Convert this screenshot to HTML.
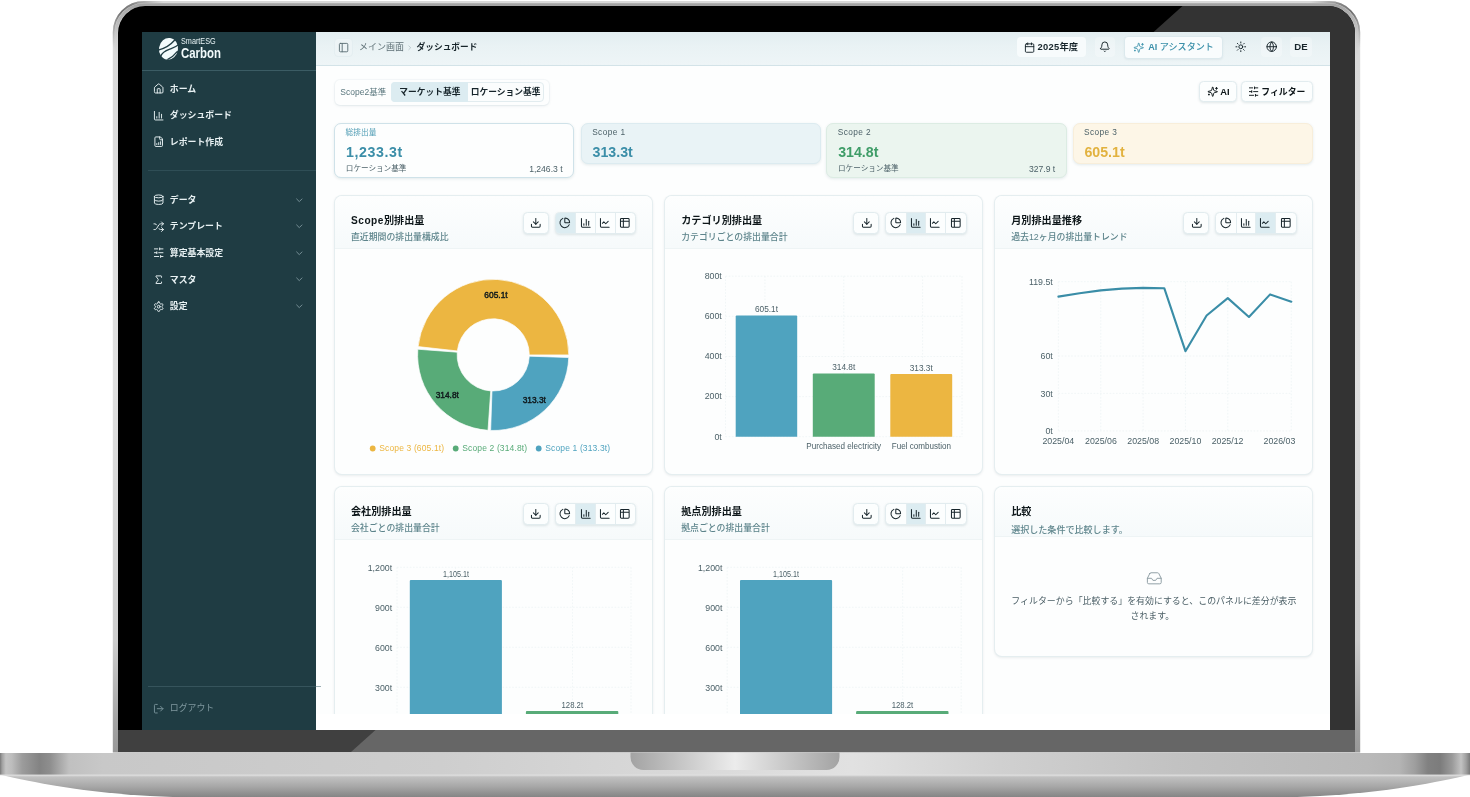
<!DOCTYPE html>
<html lang="ja"><head><meta charset="utf-8"><title>SmartESG Carbon ダッシュボード</title>
<style>
*{margin:0;padding:0;box-sizing:border-box}
html,body{width:1470px;height:797px;background:#fff;overflow:hidden}
body{position:relative;font-family:"Liberation Sans","Noto Sans CJK JP",sans-serif;-webkit-font-smoothing:antialiased}
#laptop{position:absolute;left:0;top:0}
#screen{position:absolute;left:142px;top:32px;width:1188px;height:698px;overflow:hidden;background:#fff}
#app{position:absolute;left:-142px;top:-32px;width:1470px;height:797px}
.b{position:absolute}
.ic{position:absolute;overflow:visible}
.t{position:absolute;white-space:nowrap;line-height:16px;height:16px}
svg text{font-family:"Liberation Sans","Noto Sans CJK JP",sans-serif}
</style></head>
<body>

<svg id="laptop" width="1470" height="797" viewBox="0 0 1470 797">
 <defs>
  <linearGradient id="baseTop" x1="0" y1="0" x2="1" y2="0">
   <stop offset="0" stop-color="#7a7a7a"/><stop offset="0.0014" stop-color="#a0a0a0"/>
   <stop offset="0.004" stop-color="#c4c4c4"/><stop offset="0.008" stop-color="#bdbdbd"/>
   <stop offset="0.015" stop-color="#9c9c9c"/><stop offset="0.027" stop-color="#838383"/>
   <stop offset="0.034" stop-color="#8e8e8e"/><stop offset="0.047" stop-color="#c0c0c0"/>
   <stop offset="0.07" stop-color="#c8c8c8"/>
   <stop offset="0.3" stop-color="#cecece"/><stop offset="0.45" stop-color="#d8d8d8"/><stop offset="0.58" stop-color="#e1e1e1"/>
   <stop offset="0.68" stop-color="#d0d0d0"/><stop offset="0.8" stop-color="#c2c2c2"/><stop offset="0.93" stop-color="#b9b9b9"/>
   <stop offset="0.952" stop-color="#b4b4b4"/><stop offset="0.9626" stop-color="#9e9e9e"/>
   <stop offset="0.9714" stop-color="#818181"/><stop offset="0.9796" stop-color="#7c7c7c"/>
   <stop offset="0.9878" stop-color="#9a9a9a"/><stop offset="0.9939" stop-color="#c2c2c2"/>
   <stop offset="0.9973" stop-color="#a0a0a0"/><stop offset="1" stop-color="#7a7a7a"/>
  </linearGradient>
  <linearGradient id="baseBot" x1="0" y1="0" x2="0" y2="1">
   <stop offset="0" stop-color="#dcdcdc"/><stop offset="0.12" stop-color="#c0c0c0"/>
   <stop offset="0.5" stop-color="#a8a8a8"/><stop offset="1" stop-color="#828282"/>
  </linearGradient>
  <linearGradient id="notch" x1="0" y1="0" x2="1" y2="0">
   <stop offset="0" stop-color="#a3a3a3"/><stop offset="0.5" stop-color="#ececec"/><stop offset="1" stop-color="#a3a3a3"/>
  </linearGradient>
  <linearGradient id="rimV" gradientUnits="userSpaceOnUse" x1="0" y1="0" x2="0" y2="752">
   <stop offset="0" stop-color="#d9d9d9"/><stop offset="0.5" stop-color="#e0e0e0"/>
   <stop offset="0.85" stop-color="#cdcdcd"/><stop offset="0.96" stop-color="#a4a4a4"/><stop offset="1" stop-color="#989898"/>
  </linearGradient>
  <linearGradient id="rimIn" gradientUnits="userSpaceOnUse" x1="0" y1="4" x2="0" y2="60">
   <stop offset="0" stop-color="#a2a2a2"/><stop offset="0.35" stop-color="#b4b4b4" stop-opacity=".8"/><stop offset="1" stop-color="#d0d0d0" stop-opacity="0"/>
  </linearGradient>
  <linearGradient id="cornL" gradientUnits="userSpaceOnUse" x1="113" y1="60" x2="175" y2="2">
   <stop offset="0.1" stop-color="#707070" stop-opacity="0"/><stop offset="0.45" stop-color="#6a6a6a" stop-opacity=".95"/><stop offset="0.62" stop-color="#707070" stop-opacity=".8"/><stop offset="0.9" stop-color="#8a8a8a" stop-opacity="0"/>
  </linearGradient>
  <linearGradient id="cornR" gradientUnits="userSpaceOnUse" x1="1360" y1="60" x2="1298" y2="2">
   <stop offset="0.1" stop-color="#707070" stop-opacity="0"/><stop offset="0.45" stop-color="#6a6a6a" stop-opacity=".95"/><stop offset="0.62" stop-color="#707070" stop-opacity=".8"/><stop offset="0.9" stop-color="#8a8a8a" stop-opacity="0"/>
  </linearGradient>
  <clipPath id="bezelClip"><path d="M118 752V33a27 27 0 0 1 27-27h1183a27 27 0 0 1 27 27V752Z"/></clipPath>
 </defs>
 <!-- lid silver rim -->
 <path d="M112.8 752.5V32.2a31.2 31.2 0 0 1 31.2-31.2h1185a31.2 31.2 0 0 1 31.2 31.2V752.5Z" fill="url(#rimV)"/>
 <path d="M116.2 60V32.6a27.8 27.8 0 0 1 27.8-27.8h1185a27.8 27.8 0 0 1 27.8 27.8V60" fill="none" stroke="url(#rimIn)" stroke-width="3"/>
 <path d="M113.6 60V32.4a30.4 30.4 0 0 1 30.4-30.4H175" fill="none" stroke="url(#cornL)" stroke-width="1.8"/>
 <path d="M1359.4 60V32.4a30.4 30.4 0 0 0-30.4-30.4H1298" fill="none" stroke="url(#cornR)" stroke-width="1.8"/>
 <!-- bezel -->
 <g clip-path="url(#bezelClip)">
  <rect x="116" y="5" width="1241" height="747" fill="#000"/>
  <rect x="116" y="730" width="1241" height="22" fill="#404040"/>
  <!-- reflection -->
  <path d="M1187 2L1360 2L1360 730L375.5 730Z" fill="#333"/>
  <path d="M375.5 730L1360 730L1360 752L351 752Z" fill="#666"/>
 </g>
 <!-- base -->
 <path d="M0 774.5C30 782 85 792.5 150 796C180 797.6 210 798 240 798H1230C1260 798 1290 797.6 1320 796C1385 792.5 1440 782 1470 774.5Z" fill="url(#baseBot)"/>
 <rect x="0" y="753" width="1470" height="22" fill="url(#baseTop)"/>
 <rect x="0" y="774.3" width="1470" height="1.4" fill="#e2e2e2" opacity=".6"/>
 <path d="M630.5 752.5H839.5V757a13 13 0 0 1-13 13H643.5a13 13 0 0 1-13-13Z" fill="url(#notch)"/>
</svg>

<div id="screen"><div id="app">
<div class="b " style="left:316.00px;top:32.00px;width:1014.00px;height:698.00px;background:#fdfefe;"></div>
<div class="b " style="left:142.00px;top:32.00px;width:174.00px;height:698.00px;background:#1f3c43;"></div>
<svg class="ic" style="left:158px;top:36.5px;width:21px;height:23.5px" viewBox="0 0 21 23.5">
 <ellipse cx="10.5" cy="11.8" rx="9.5" ry="10.9" fill="#f3fbfc" transform="rotate(8 10.5 11.8)"/>
 <g fill="none" stroke="#1f3c43" stroke-width="1.3" stroke-linecap="butt">
  <path d="M0.2 13.1C6.5 11.6 12.5 8 16.8 3"/>
  <path d="M2.6 19.5C4.2 14.2 9.5 13 13.2 11.6C16 10.5 18.6 9.4 20.8 7.6"/>
  <path d="M9.4 22.6C13.2 20.8 16.6 18.1 19.7 14.2"/>
 </g></svg>
<span class="t " style="top:33.30px;font-size:8.6px;color:#e9f4f6;font-weight:400;left:181.20px;transform:scaleX(0.845);transform-origin:left center;">SmartESG</span>
<span class="t " style="top:44.60px;font-size:14.2px;color:#f1fafb;font-weight:700;left:181.00px;transform:scaleX(0.805);transform-origin:left center;">Carbon</span>
<div class="b " style="left:142.00px;top:70.00px;width:174.00px;height:1.00px;background:#3b5c64;"></div>
<svg class="ic" style="left:152.90px;top:83.00px;width:11.4px;height:11.4px" viewBox="0 0 24 24" fill="none" stroke="#e8f1f3" stroke-width="2.0" stroke-linecap="round" stroke-linejoin="round"><path d="M15 21v-8a1 1 0 0 0-1-1h-4a1 1 0 0 0-1 1v8"/><path d="M3 10a2 2 0 0 1 .709-1.528l7-5.999a2 2 0 0 1 2.582 0l7 5.999A2 2 0 0 1 21 10v9a2 2 0 0 1-2 2H5a2 2 0 0 1-2-2z"/></svg>
<span class="t " style="top:80.70px;font-size:8.9px;color:#e8f1f3;font-weight:700;left:169.80px;">ホーム</span>
<svg class="ic" style="left:152.90px;top:109.50px;width:11.4px;height:11.4px" viewBox="0 0 24 24" fill="none" stroke="#e8f1f3" stroke-width="2.0" stroke-linecap="round" stroke-linejoin="round"><path d="M3 3v16a2 2 0 0 0 2 2h16"/><path d="M18 17V9"/><path d="M13 17V5"/><path d="M8 17v-3"/></svg>
<span class="t " style="top:107.20px;font-size:8.9px;color:#e8f1f3;font-weight:700;left:169.80px;">ダッシュボード</span>
<svg class="ic" style="left:152.90px;top:136.10px;width:11.4px;height:11.4px" viewBox="0 0 24 24" fill="none" stroke="#e8f1f3" stroke-width="2.0" stroke-linecap="round" stroke-linejoin="round"><path d="M15 2H6a2 2 0 0 0-2 2v16a2 2 0 0 0 2 2h12a2 2 0 0 0 2-2V7Z"/><path d="M14 2v4a2 2 0 0 0 2 2h4"/><path d="M8 18v-2"/><path d="M12 18v-4"/><path d="M16 18v-6"/></svg>
<span class="t " style="top:133.80px;font-size:8.9px;color:#e8f1f3;font-weight:700;left:169.80px;">レポート作成</span>
<div class="b " style="left:148.00px;top:169.60px;width:168.00px;height:1.00px;background:#2f4e56;"></div>
<svg class="ic" style="left:152.90px;top:194.30px;width:11.4px;height:11.4px" viewBox="0 0 24 24" fill="none" stroke="#e8f1f3" stroke-width="2.0" stroke-linecap="round" stroke-linejoin="round"><ellipse cx="12" cy="5" rx="9" ry="3"/><path d="M3 5V19A9 3 0 0 0 21 19V5"/><path d="M3 12A9 3 0 0 0 21 12"/></svg>
<span class="t " style="top:192.00px;font-size:8.9px;color:#e8f1f3;font-weight:700;left:169.80px;">データ</span>
<svg class="ic" style="left:293.50px;top:194.70px;width:10.6px;height:10.6px" viewBox="0 0 24 24" fill="none" stroke="#8099a0" stroke-width="2" stroke-linecap="round" stroke-linejoin="round"><path d="m6 9 6 6 6-6"/></svg>
<svg class="ic" style="left:152.90px;top:220.60px;width:11.4px;height:11.4px" viewBox="0 0 24 24" fill="none" stroke="#e8f1f3" stroke-width="2.0" stroke-linecap="round" stroke-linejoin="round"><path d="m18 14 4 4-4 4"/><path d="m18 2 4 4-4 4"/><path d="M2 18h1.973a4 4 0 0 0 3.3-1.7l5.454-8.6a4 4 0 0 1 3.3-1.7H22"/><path d="M2 6h1.972a4 4 0 0 1 3.6 2.2"/><path d="M22 18h-6.041a4 4 0 0 1-3.3-1.8l-.359-.45"/></svg>
<span class="t " style="top:218.30px;font-size:8.9px;color:#e8f1f3;font-weight:700;left:169.80px;">テンプレート</span>
<svg class="ic" style="left:293.50px;top:221.00px;width:10.6px;height:10.6px" viewBox="0 0 24 24" fill="none" stroke="#8099a0" stroke-width="2" stroke-linecap="round" stroke-linejoin="round"><path d="m6 9 6 6 6-6"/></svg>
<svg class="ic" style="left:152.90px;top:247.40px;width:11.4px;height:11.4px" viewBox="0 0 24 24" fill="none" stroke="#e8f1f3" stroke-width="2.0" stroke-linecap="round" stroke-linejoin="round"><path d="M21 4h-7"/><path d="M10 4H3"/><path d="M21 12h-9"/><path d="M8 12H3"/><path d="M21 20h-5"/><path d="M12 20H3"/><path d="M14 2v4"/><path d="M8 10v4"/><path d="M16 18v4"/></svg>
<span class="t " style="top:245.10px;font-size:8.9px;color:#e8f1f3;font-weight:700;left:169.80px;">算定基本設定</span>
<svg class="ic" style="left:293.50px;top:247.80px;width:10.6px;height:10.6px" viewBox="0 0 24 24" fill="none" stroke="#8099a0" stroke-width="2" stroke-linecap="round" stroke-linejoin="round"><path d="m6 9 6 6 6-6"/></svg>
<svg class="ic" style="left:152.90px;top:274.00px;width:11.4px;height:11.4px" viewBox="0 0 24 24" fill="none" stroke="#e8f1f3" stroke-width="2.0" stroke-linecap="round" stroke-linejoin="round"><path d="M18 7V5a1 1 0 0 0-1-1H6.5a.5.5 0 0 0-.4.8l4.5 6a2 2 0 0 1 0 2.4l-4.5 6a.5.5 0 0 0 .4.8H17a1 1 0 0 0 1-1v-2"/></svg>
<span class="t " style="top:271.70px;font-size:8.9px;color:#e8f1f3;font-weight:700;left:169.80px;">マスタ</span>
<svg class="ic" style="left:293.50px;top:274.40px;width:10.6px;height:10.6px" viewBox="0 0 24 24" fill="none" stroke="#8099a0" stroke-width="2" stroke-linecap="round" stroke-linejoin="round"><path d="m6 9 6 6 6-6"/></svg>
<svg class="ic" style="left:152.90px;top:300.50px;width:11.4px;height:11.4px" viewBox="0 0 24 24" fill="none" stroke="#e8f1f3" stroke-width="2.0" stroke-linecap="round" stroke-linejoin="round"><path d="M12.22 2h-.44a2 2 0 0 0-2 2v.18a2 2 0 0 1-1 1.73l-.43.25a2 2 0 0 1-2 0l-.15-.08a2 2 0 0 0-2.73.73l-.22.38a2 2 0 0 0 .73 2.73l.15.1a2 2 0 0 1 1 1.72v.51a2 2 0 0 1-1 1.74l-.15.09a2 2 0 0 0-.73 2.73l.22.38a2 2 0 0 0 2.73.73l.15-.08a2 2 0 0 1 2 0l.43.25a2 2 0 0 1 1 1.73V20a2 2 0 0 0 2 2h.44a2 2 0 0 0 2-2v-.18a2 2 0 0 1 1-1.73l.43-.25a2 2 0 0 1 2 0l.15.08a2 2 0 0 0 2.73-.73l.22-.39a2 2 0 0 0-.73-2.73l-.15-.08a2 2 0 0 1-1-1.74v-.5a2 2 0 0 1 1-1.74l.15-.09a2 2 0 0 0 .73-2.73l-.22-.38a2 2 0 0 0-2.73-.73l-.15.08a2 2 0 0 1-2 0l-.43-.25a2 2 0 0 1-1-1.73V4a2 2 0 0 0-2-2z"/><circle cx="12" cy="12" r="3"/></svg>
<span class="t " style="top:298.20px;font-size:8.9px;color:#e8f1f3;font-weight:700;left:169.80px;">設定</span>
<svg class="ic" style="left:293.50px;top:300.90px;width:10.6px;height:10.6px" viewBox="0 0 24 24" fill="none" stroke="#8099a0" stroke-width="2" stroke-linecap="round" stroke-linejoin="round"><path d="m6 9 6 6 6-6"/></svg>
<div class="b " style="left:148.00px;top:685.60px;width:168.00px;height:1.00px;background:#36545c;"></div>
<div class="b " style="left:316.00px;top:685.60px;width:4.50px;height:1.00px;background:#9fb0b5;z-index:5;"></div>
<svg class="ic" style="left:152.90px;top:702.60px;width:11.4px;height:11.4px" viewBox="0 0 24 24" fill="none" stroke="#78929a" stroke-width="2.0" stroke-linecap="round" stroke-linejoin="round"><path d="M9 21H5a2 2 0 0 1-2-2V5a2 2 0 0 1 2-2h4"/><path d="m16 17 5-5-5-5"/><path d="M21 12H9"/></svg>
<span class="t " style="top:700.30px;font-size:8.9px;color:#7f989f;font-weight:400;left:169.80px;">ログアウト</span>
<div class="b " style="left:316.00px;top:32.00px;width:1014.00px;height:34.30px;background:linear-gradient(180deg,#e2edf0 0%,#e9f2f4 40%,#eef5f7 100%);border-bottom:1px solid #d3e3e8;"></div>
<div class="b " style="left:334.00px;top:38.00px;width:18.50px;height:18.50px;background:#edf4f6;border:1px solid #e4eef1;border-radius:4px;"></div>
<svg class="ic" style="left:337.70px;top:41.70px;width:11.2px;height:11.2px" viewBox="0 0 24 24" fill="none" stroke="#5d6f75" stroke-width="2.0" stroke-linecap="round" stroke-linejoin="round"><rect width="18" height="18" x="3" y="3" rx="2"/><path d="M9 3v18"/></svg>
<span class="t " style="top:39.20px;font-size:9.0px;color:#5f7177;font-weight:400;left:359.00px;">メイン画面</span>
<svg class="ic" style="left:405.55px;top:43.65px;width:7.5px;height:7.5px" viewBox="0 0 24 24" fill="none" stroke="#a3b3b8" stroke-width="2" stroke-linecap="round" stroke-linejoin="round"><path d="m9 18 6-6-6-6"/></svg>
<span class="t " style="top:39.20px;font-size:8.7px;color:#16242a;font-weight:700;left:416.60px;">ダッシュボード</span>
<div class="b " style="left:1017.00px;top:37.30px;width:69.00px;height:19.70px;background:#f7fbfc;border-radius:4px;"></div>
<svg class="ic" style="left:1024.00px;top:41.50px;width:11.2px;height:11.2px" viewBox="0 0 24 24" fill="none" stroke="#16242a" stroke-width="2.0" stroke-linecap="round" stroke-linejoin="round"><path d="M8 2v4"/><path d="M16 2v4"/><rect width="18" height="18" x="3" y="4" rx="2"/><path d="M3 10h18"/></svg>
<span class="t " style="top:39.20px;font-size:9.35px;color:#16242a;font-weight:700;left:1037.50px;"><span style="letter-spacing:.3px">2025</span>年度</span>
<div class="b " style="left:1094.60px;top:37.30px;width:20.40px;height:19.70px;background:rgba(255,255,255,.28);border-radius:4px;"></div>
<div class="b " style="left:1261.00px;top:37.30px;width:20.60px;height:19.70px;background:rgba(255,255,255,.28);border-radius:4px;"></div>
<div class="b " style="left:1290.40px;top:37.30px;width:21.40px;height:19.70px;background:rgba(255,255,255,.28);border-radius:4px;"></div>
<svg class="ic" style="left:1098.80px;top:41.30px;width:11.6px;height:11.6px" viewBox="0 0 24 24" fill="none" stroke="#1a282d" stroke-width="2.0" stroke-linecap="round" stroke-linejoin="round"><path d="M10.268 21a2 2 0 0 0 3.464 0"/><path d="M3.262 15.326A1 1 0 0 0 4 17h16a1 1 0 0 0 .74-1.673C19.41 13.956 18 12.499 18 8A6 6 0 0 0 6 8c0 4.499-1.411 5.956-2.738 7.326"/></svg>
<div class="b " style="left:1124.00px;top:36.10px;width:98.60px;height:22.80px;background:#f9fcfd;border:1px solid #dce9ed;border-radius:4px;box-shadow:0 1px 2px rgba(60,100,110,.08);"></div>
<svg class="ic" style="left:1132.70px;top:41.50px;width:11.4px;height:11.4px" viewBox="0 0 24 24" fill="none" stroke="#3f94ad" stroke-width="1.8" stroke-linecap="round" stroke-linejoin="round"><path d="M9.937 15.5A2 2 0 0 0 8.5 14.063l-6.135-1.582a.5.5 0 0 1 0-.962L8.5 9.936A2 2 0 0 0 9.937 8.5l1.582-6.135a.5.5 0 0 1 .963 0L14.063 8.5A2 2 0 0 0 15.5 9.937l6.135 1.581a.5.5 0 0 1 0 .964L15.5 14.063a2 2 0 0 0-1.437 1.437l-1.582 6.135a.5.5 0 0 1-.963 0z"/><path d="M20 3v4"/><path d="M22 5h-4"/><path d="M4 17v2"/><path d="M5 18H3"/></svg>
<span class="t " style="top:39.20px;font-size:9.05px;color:#3b90aa;font-weight:500;left:1148.30px;"><b>AI</b> アシスタント</span>
<svg class="ic" style="left:1235.10px;top:41.30px;width:11.6px;height:11.6px" viewBox="0 0 24 24" fill="none" stroke="#16242a" stroke-width="2.0" stroke-linecap="round" stroke-linejoin="round"><circle cx="12" cy="12" r="4"/><path d="M12 2v2"/><path d="M12 20v2"/><path d="m4.93 4.93 1.41 1.41"/><path d="m17.66 17.66 1.41 1.41"/><path d="M2 12h2"/><path d="M20 12h2"/><path d="m6.34 17.66-1.41 1.41"/><path d="m19.07 4.93-1.41 1.41"/></svg>
<svg class="ic" style="left:1265.50px;top:41.40px;width:11.4px;height:11.4px" viewBox="0 0 24 24" fill="none" stroke="#16242a" stroke-width="2.0" stroke-linecap="round" stroke-linejoin="round"><circle cx="12" cy="12" r="10"/><path d="M12 2a14.5 14.5 0 0 0 0 20 14.5 14.5 0 0 0 0-20"/><path d="M2 12h20"/></svg>
<span class="t " style="top:39.20px;font-size:9.6px;color:#16242a;font-weight:700;left:1301.00px;transform:translateX(-50%);transform-origin:center center;">DE</span>
<div class="b " style="left:334.50px;top:80.00px;width:214.00px;height:24.60px;background:#fdfefe;border-radius:5px;box-shadow:0 1px 3px rgba(70,110,120,.12),0 0 0 1px rgba(215,230,235,.18);"></div>
<span class="t " style="top:84.20px;font-size:8.5px;color:#5b777e;font-weight:400;left:340.30px;">Scope2基準</span>
<div class="b " style="left:391.40px;top:82.00px;width:152.20px;height:20.40px;background:#fbfdfd;border:1px solid #e2ecef;border-radius:4px;"></div>
<div class="b " style="left:391.40px;top:82.00px;width:76.60px;height:20.40px;background:#dcecf1;border-radius:4px 0 0 4px;"></div>
<span class="t " style="top:84.10px;font-size:8.75px;color:#16242a;font-weight:700;left:429.80px;transform:translateX(-50%);transform-origin:center center;">マーケット基準</span>
<span class="t " style="top:84.10px;font-size:8.75px;color:#16242a;font-weight:700;left:505.60px;transform:translateX(-50%);transform-origin:center center;">ロケーション基準</span>
<div class="b " style="left:1199.30px;top:81.20px;width:37.50px;height:21.00px;background:#fcfefe;border:1px solid #e2ecef;border-radius:4.5px;box-shadow:0 1px 2.5px rgba(60,100,110,.15);"></div>
<svg class="ic" style="left:1206.50px;top:86.20px;width:11.4px;height:11.4px" viewBox="0 0 24 24" fill="none" stroke="#0d1619" stroke-width="2.0" stroke-linecap="round" stroke-linejoin="round"><path d="M9.937 15.5A2 2 0 0 0 8.5 14.063l-6.135-1.582a.5.5 0 0 1 0-.962L8.5 9.936A2 2 0 0 0 9.937 8.5l1.582-6.135a.5.5 0 0 1 .963 0L14.063 8.5A2 2 0 0 0 15.5 9.937l6.135 1.581a.5.5 0 0 1 0 .964L15.5 14.063a2 2 0 0 0-1.437 1.437l-1.582 6.135a.5.5 0 0 1-.963 0z"/><path d="M20 3v4"/><path d="M22 5h-4"/><path d="M4 17v2"/><path d="M5 18H3"/></svg>
<span class="t " style="top:84.00px;font-size:9.3px;color:#0d1619;font-weight:700;left:1220.20px;">AI</span>
<div class="b " style="left:1240.80px;top:81.20px;width:72.20px;height:21.00px;background:#fcfefe;border:1px solid #e2ecef;border-radius:4.5px;box-shadow:0 1px 2.5px rgba(60,100,110,.15);"></div>
<svg class="ic" style="left:1247.80px;top:86.30px;width:11.2px;height:11.2px" viewBox="0 0 24 24" fill="none" stroke="#0d1619" stroke-width="2.0" stroke-linecap="round" stroke-linejoin="round"><path d="M21 4h-7"/><path d="M10 4H3"/><path d="M21 12h-9"/><path d="M8 12H3"/><path d="M21 20h-5"/><path d="M12 20H3"/><path d="M14 2v4"/><path d="M8 10v4"/><path d="M16 18v4"/></svg>
<span class="t " style="top:84.10px;font-size:8.85px;color:#0d1619;font-weight:700;left:1261.30px;">フィルター</span>
<div class="b " style="left:334.20px;top:123.20px;width:240.20px;height:54.40px;background:#fdfefe;border:1px solid #cfe2e9;border-radius:7px;box-shadow:0 1px 3px rgba(70,110,120,.14);"></div>
<span class="t " style="top:124.60px;font-size:7.7px;color:#4d9bb3;font-weight:400;left:345.60px;">総排出量</span>
<span class="t " style="top:143.50px;font-size:14.2px;color:#3b8ea8;font-weight:700;left:346.00px;letter-spacing:0.6px;">1,233.3t</span>
<span class="t " style="top:161.30px;font-size:7.6px;color:#4c6168;font-weight:400;left:345.80px;">ロケーション基準</span>
<span class="t " style="top:161.30px;font-size:8.6px;color:#4c6168;font-weight:400;left:562.60px;transform:translateX(-100%);transform-origin:right center;">1,246.3 t</span>
<div class="b " style="left:580.80px;top:123.20px;width:239.80px;height:41.00px;background:#e9f3f6;border:1px solid #dcebf0;border-radius:7px;box-shadow:0 1px 3px rgba(70,110,120,.14);"></div>
<span class="t " style="top:123.80px;font-size:8.3px;color:#4c6168;font-weight:400;left:592.20px;letter-spacing:0.4px;">Scope 1</span>
<span class="t " style="top:143.50px;font-size:14.2px;color:#3b8ea8;font-weight:700;left:592.60px;letter-spacing:0.0px;">313.3t</span>
<div class="b " style="left:826.40px;top:123.20px;width:240.60px;height:54.40px;background:#ebf5ef;border:1px solid #dcece3;border-radius:7px;box-shadow:0 1px 3px rgba(70,110,120,.14);"></div>
<span class="t " style="top:123.80px;font-size:8.3px;color:#4c6168;font-weight:400;left:837.80px;letter-spacing:0.4px;">Scope 2</span>
<span class="t " style="top:143.50px;font-size:14.2px;color:#3f9d68;font-weight:700;left:838.20px;letter-spacing:0.0px;">314.8t</span>
<span class="t " style="top:161.30px;font-size:7.6px;color:#4c6168;font-weight:400;left:838.00px;">ロケーション基準</span>
<span class="t " style="top:161.30px;font-size:8.6px;color:#4c6168;font-weight:400;left:1055.20px;transform:translateX(-100%);transform-origin:right center;">327.9 t</span>
<div class="b " style="left:1072.60px;top:123.20px;width:240.40px;height:41.00px;background:#fdf6e7;border:1px solid #f8eeda;border-radius:7px;box-shadow:0 1px 3px rgba(70,110,120,.14);"></div>
<span class="t " style="top:123.80px;font-size:8.3px;color:#4c6168;font-weight:400;left:1084.00px;letter-spacing:0.4px;">Scope 3</span>
<span class="t " style="top:143.50px;font-size:14.2px;color:#e2b23f;font-weight:700;left:1084.40px;letter-spacing:0.0px;">605.1t</span>
<div class="b " style="left:334.20px;top:194.70px;width:319.20px;height:280.30px;background:#fdfefe;border:1px solid rgba(214,226,230,.6);border-radius:8px;box-shadow:0 1px 2.5px rgba(40,70,80,.09);overflow:hidden;"></div>
<div class="b " style="left:335.20px;top:195.70px;width:317.20px;height:53.80px;background:linear-gradient(180deg,#fdfefe,#f6fafb);border-bottom:1px solid #eef4f5;border-radius:7px 7px 0 0;"></div>
<span class="t " style="top:212.70px;font-size:10.15px;color:#0e171a;font-weight:700;left:351.00px;"><span style="letter-spacing:.5px">Scope</span>別排出量</span>
<span class="t " style="top:229.20px;font-size:8.9px;color:#5d848b;font-weight:500;left:351.00px;">直近期間の排出量構成比</span>
<div class="b " style="left:522.80px;top:212.00px;width:26.20px;height:22.30px;background:#fcfefe;border:1px solid #e2ecef;border-radius:4.5px;box-shadow:0 1px 2.5px rgba(60,100,110,.15);"></div>
<svg class="ic" style="left:530.40px;top:217.00px;width:11.6px;height:11.6px" viewBox="0 0 24 24" fill="none" stroke="#16242a" stroke-width="2.1" stroke-linecap="round" stroke-linejoin="round"><path d="M21 15v4a2 2 0 0 1-2 2H5a2 2 0 0 1-2-2v-4"/><path d="m7 10 5 5 5-5"/><path d="M12 15V3"/></svg>
<div class="b " style="left:555.00px;top:212.00px;width:81.40px;height:22.30px;background:#fcfefe;border:1px solid #e2ecef;border-radius:4.5px;box-shadow:0 1px 2.5px rgba(60,100,110,.15);"></div>
<div class="b " style="left:556.00px;top:213.00px;width:19.90px;height:20.30px;background:#dcecf1;border-radius:3px 0 0 3px;"></div>
<div class="b " style="left:575.40px;top:213.00px;width:1.00px;height:20.30px;background:#e3edf0;"></div>
<div class="b " style="left:595.00px;top:213.00px;width:1.00px;height:20.30px;background:#e3edf0;"></div>
<div class="b " style="left:614.90px;top:213.00px;width:1.00px;height:20.30px;background:#e3edf0;"></div>
<svg class="ic" style="left:559.40px;top:217.00px;width:11.6px;height:11.6px" viewBox="0 0 24 24" fill="none" stroke="#16242a" stroke-width="2.1" stroke-linecap="round" stroke-linejoin="round"><path d="M21 12c.552 0 1.005-.449.95-.998a10 10 0 0 0-8.953-8.951c-.55-.055-.998.398-.998.95v8a1 1 0 0 0 1 1z"/><path d="M21.21 15.89A10 10 0 1 1 8 2.83"/></svg>
<svg class="ic" style="left:579.60px;top:217.00px;width:11.6px;height:11.6px" viewBox="0 0 24 24" fill="none" stroke="#16242a" stroke-width="2.1" stroke-linecap="round" stroke-linejoin="round"><path d="M3 3v16a2 2 0 0 0 2 2h16"/><path d="M18 17V9"/><path d="M13 17V5"/><path d="M8 17v-3"/></svg>
<svg class="ic" style="left:598.80px;top:217.00px;width:11.6px;height:11.6px" viewBox="0 0 24 24" fill="none" stroke="#16242a" stroke-width="2.1" stroke-linecap="round" stroke-linejoin="round"><path d="M3 3v16a2 2 0 0 0 2 2h16"/><path d="m19 9-5 5-4-4-3 3"/></svg>
<svg class="ic" style="left:619.40px;top:217.00px;width:11.6px;height:11.6px" viewBox="0 0 24 24" fill="none" stroke="#16242a" stroke-width="2.1" stroke-linecap="round" stroke-linejoin="round"><path d="M9 3H5a2 2 0 0 0-2 2v4m6-6h10a2 2 0 0 1 2 2v4M9 3v18m0 0h10a2 2 0 0 0 2-2V9M9 21H5a2 2 0 0 1-2-2V9m0 0h18"/></svg>
<div class="b " style="left:664.40px;top:194.70px;width:319.00px;height:280.30px;background:#fdfefe;border:1px solid rgba(214,226,230,.6);border-radius:8px;box-shadow:0 1px 2.5px rgba(40,70,80,.09);overflow:hidden;"></div>
<div class="b " style="left:665.40px;top:195.70px;width:317.00px;height:53.80px;background:linear-gradient(180deg,#fdfefe,#f6fafb);border-bottom:1px solid #eef4f5;border-radius:7px 7px 0 0;"></div>
<span class="t " style="top:212.70px;font-size:10.15px;color:#0e171a;font-weight:700;left:681.20px;">カテゴリ別排出量</span>
<span class="t " style="top:229.20px;font-size:8.9px;color:#5d848b;font-weight:500;left:681.20px;">カテゴリごとの排出量合計</span>
<div class="b " style="left:853.00px;top:212.00px;width:26.20px;height:22.30px;background:#fcfefe;border:1px solid #e2ecef;border-radius:4.5px;box-shadow:0 1px 2.5px rgba(60,100,110,.15);"></div>
<svg class="ic" style="left:860.60px;top:217.00px;width:11.6px;height:11.6px" viewBox="0 0 24 24" fill="none" stroke="#16242a" stroke-width="2.1" stroke-linecap="round" stroke-linejoin="round"><path d="M21 15v4a2 2 0 0 1-2 2H5a2 2 0 0 1-2-2v-4"/><path d="m7 10 5 5 5-5"/><path d="M12 15V3"/></svg>
<div class="b " style="left:885.20px;top:212.00px;width:81.40px;height:22.30px;background:#fcfefe;border:1px solid #e2ecef;border-radius:4.5px;box-shadow:0 1px 2.5px rgba(60,100,110,.15);"></div>
<div class="b " style="left:906.10px;top:213.00px;width:19.60px;height:20.30px;background:#dcecf1;"></div>
<div class="b " style="left:905.60px;top:213.00px;width:1.00px;height:20.30px;background:#e3edf0;"></div>
<div class="b " style="left:925.20px;top:213.00px;width:1.00px;height:20.30px;background:#e3edf0;"></div>
<div class="b " style="left:945.10px;top:213.00px;width:1.00px;height:20.30px;background:#e3edf0;"></div>
<svg class="ic" style="left:889.60px;top:217.00px;width:11.6px;height:11.6px" viewBox="0 0 24 24" fill="none" stroke="#16242a" stroke-width="2.1" stroke-linecap="round" stroke-linejoin="round"><path d="M21 12c.552 0 1.005-.449.95-.998a10 10 0 0 0-8.953-8.951c-.55-.055-.998.398-.998.95v8a1 1 0 0 0 1 1z"/><path d="M21.21 15.89A10 10 0 1 1 8 2.83"/></svg>
<svg class="ic" style="left:909.80px;top:217.00px;width:11.6px;height:11.6px" viewBox="0 0 24 24" fill="none" stroke="#16242a" stroke-width="2.1" stroke-linecap="round" stroke-linejoin="round"><path d="M3 3v16a2 2 0 0 0 2 2h16"/><path d="M18 17V9"/><path d="M13 17V5"/><path d="M8 17v-3"/></svg>
<svg class="ic" style="left:929.00px;top:217.00px;width:11.6px;height:11.6px" viewBox="0 0 24 24" fill="none" stroke="#16242a" stroke-width="2.1" stroke-linecap="round" stroke-linejoin="round"><path d="M3 3v16a2 2 0 0 0 2 2h16"/><path d="m19 9-5 5-4-4-3 3"/></svg>
<svg class="ic" style="left:949.60px;top:217.00px;width:11.6px;height:11.6px" viewBox="0 0 24 24" fill="none" stroke="#16242a" stroke-width="2.1" stroke-linecap="round" stroke-linejoin="round"><path d="M9 3H5a2 2 0 0 0-2 2v4m6-6h10a2 2 0 0 1 2 2v4M9 3v18m0 0h10a2 2 0 0 0 2-2V9M9 21H5a2 2 0 0 1-2-2V9m0 0h18"/></svg>
<div class="b " style="left:994.40px;top:194.70px;width:318.80px;height:280.30px;background:#fdfefe;border:1px solid rgba(214,226,230,.6);border-radius:8px;box-shadow:0 1px 2.5px rgba(40,70,80,.09);overflow:hidden;"></div>
<div class="b " style="left:995.40px;top:195.70px;width:316.80px;height:53.80px;background:linear-gradient(180deg,#fdfefe,#f6fafb);border-bottom:1px solid #eef4f5;border-radius:7px 7px 0 0;"></div>
<span class="t " style="top:212.70px;font-size:10.15px;color:#0e171a;font-weight:700;left:1011.20px;">月別排出量推移</span>
<span class="t " style="top:229.20px;font-size:8.9px;color:#5d848b;font-weight:500;left:1011.20px;">過去12ヶ月の排出量トレンド</span>
<div class="b " style="left:1183.00px;top:212.00px;width:26.20px;height:22.30px;background:#fcfefe;border:1px solid #e2ecef;border-radius:4.5px;box-shadow:0 1px 2.5px rgba(60,100,110,.15);"></div>
<svg class="ic" style="left:1190.60px;top:217.00px;width:11.6px;height:11.6px" viewBox="0 0 24 24" fill="none" stroke="#16242a" stroke-width="2.1" stroke-linecap="round" stroke-linejoin="round"><path d="M21 15v4a2 2 0 0 1-2 2H5a2 2 0 0 1-2-2v-4"/><path d="m7 10 5 5 5-5"/><path d="M12 15V3"/></svg>
<div class="b " style="left:1215.20px;top:212.00px;width:81.40px;height:22.30px;background:#fcfefe;border:1px solid #e2ecef;border-radius:4.5px;box-shadow:0 1px 2.5px rgba(60,100,110,.15);"></div>
<div class="b " style="left:1255.70px;top:213.00px;width:19.90px;height:20.30px;background:#dcecf1;"></div>
<div class="b " style="left:1235.60px;top:213.00px;width:1.00px;height:20.30px;background:#e3edf0;"></div>
<div class="b " style="left:1255.20px;top:213.00px;width:1.00px;height:20.30px;background:#e3edf0;"></div>
<div class="b " style="left:1275.10px;top:213.00px;width:1.00px;height:20.30px;background:#e3edf0;"></div>
<svg class="ic" style="left:1219.60px;top:217.00px;width:11.6px;height:11.6px" viewBox="0 0 24 24" fill="none" stroke="#16242a" stroke-width="2.1" stroke-linecap="round" stroke-linejoin="round"><path d="M21 12c.552 0 1.005-.449.95-.998a10 10 0 0 0-8.953-8.951c-.55-.055-.998.398-.998.95v8a1 1 0 0 0 1 1z"/><path d="M21.21 15.89A10 10 0 1 1 8 2.83"/></svg>
<svg class="ic" style="left:1239.80px;top:217.00px;width:11.6px;height:11.6px" viewBox="0 0 24 24" fill="none" stroke="#16242a" stroke-width="2.1" stroke-linecap="round" stroke-linejoin="round"><path d="M3 3v16a2 2 0 0 0 2 2h16"/><path d="M18 17V9"/><path d="M13 17V5"/><path d="M8 17v-3"/></svg>
<svg class="ic" style="left:1259.00px;top:217.00px;width:11.6px;height:11.6px" viewBox="0 0 24 24" fill="none" stroke="#16242a" stroke-width="2.1" stroke-linecap="round" stroke-linejoin="round"><path d="M3 3v16a2 2 0 0 0 2 2h16"/><path d="m19 9-5 5-4-4-3 3"/></svg>
<svg class="ic" style="left:1279.60px;top:217.00px;width:11.6px;height:11.6px" viewBox="0 0 24 24" fill="none" stroke="#16242a" stroke-width="2.1" stroke-linecap="round" stroke-linejoin="round"><path d="M9 3H5a2 2 0 0 0-2 2v4m6-6h10a2 2 0 0 1 2 2v4M9 3v18m0 0h10a2 2 0 0 0 2-2V9M9 21H5a2 2 0 0 1-2-2V9m0 0h18"/></svg>
<div class="b " style="left:334.20px;top:485.60px;width:319.20px;height:274.40px;background:#fdfefe;border:1px solid rgba(214,226,230,.6);border-radius:8px;box-shadow:0 1px 2.5px rgba(40,70,80,.09);overflow:hidden;"></div>
<div class="b " style="left:335.20px;top:486.60px;width:317.20px;height:53.80px;background:linear-gradient(180deg,#fdfefe,#f6fafb);border-bottom:1px solid #eef4f5;border-radius:7px 7px 0 0;"></div>
<span class="t " style="top:503.60px;font-size:10.15px;color:#0e171a;font-weight:700;left:351.00px;">会社別排出量</span>
<span class="t " style="top:520.10px;font-size:8.9px;color:#5d848b;font-weight:500;left:351.00px;">会社ごとの排出量合計</span>
<div class="b " style="left:522.80px;top:502.90px;width:26.20px;height:22.30px;background:#fcfefe;border:1px solid #e2ecef;border-radius:4.5px;box-shadow:0 1px 2.5px rgba(60,100,110,.15);"></div>
<svg class="ic" style="left:530.40px;top:507.90px;width:11.6px;height:11.6px" viewBox="0 0 24 24" fill="none" stroke="#16242a" stroke-width="2.1" stroke-linecap="round" stroke-linejoin="round"><path d="M21 15v4a2 2 0 0 1-2 2H5a2 2 0 0 1-2-2v-4"/><path d="m7 10 5 5 5-5"/><path d="M12 15V3"/></svg>
<div class="b " style="left:555.00px;top:502.90px;width:81.40px;height:22.30px;background:#fcfefe;border:1px solid #e2ecef;border-radius:4.5px;box-shadow:0 1px 2.5px rgba(60,100,110,.15);"></div>
<div class="b " style="left:575.90px;top:503.90px;width:19.60px;height:20.30px;background:#dcecf1;"></div>
<div class="b " style="left:575.40px;top:503.90px;width:1.00px;height:20.30px;background:#e3edf0;"></div>
<div class="b " style="left:595.00px;top:503.90px;width:1.00px;height:20.30px;background:#e3edf0;"></div>
<div class="b " style="left:614.90px;top:503.90px;width:1.00px;height:20.30px;background:#e3edf0;"></div>
<svg class="ic" style="left:559.40px;top:507.90px;width:11.6px;height:11.6px" viewBox="0 0 24 24" fill="none" stroke="#16242a" stroke-width="2.1" stroke-linecap="round" stroke-linejoin="round"><path d="M21 12c.552 0 1.005-.449.95-.998a10 10 0 0 0-8.953-8.951c-.55-.055-.998.398-.998.95v8a1 1 0 0 0 1 1z"/><path d="M21.21 15.89A10 10 0 1 1 8 2.83"/></svg>
<svg class="ic" style="left:579.60px;top:507.90px;width:11.6px;height:11.6px" viewBox="0 0 24 24" fill="none" stroke="#16242a" stroke-width="2.1" stroke-linecap="round" stroke-linejoin="round"><path d="M3 3v16a2 2 0 0 0 2 2h16"/><path d="M18 17V9"/><path d="M13 17V5"/><path d="M8 17v-3"/></svg>
<svg class="ic" style="left:598.80px;top:507.90px;width:11.6px;height:11.6px" viewBox="0 0 24 24" fill="none" stroke="#16242a" stroke-width="2.1" stroke-linecap="round" stroke-linejoin="round"><path d="M3 3v16a2 2 0 0 0 2 2h16"/><path d="m19 9-5 5-4-4-3 3"/></svg>
<svg class="ic" style="left:619.40px;top:507.90px;width:11.6px;height:11.6px" viewBox="0 0 24 24" fill="none" stroke="#16242a" stroke-width="2.1" stroke-linecap="round" stroke-linejoin="round"><path d="M9 3H5a2 2 0 0 0-2 2v4m6-6h10a2 2 0 0 1 2 2v4M9 3v18m0 0h10a2 2 0 0 0 2-2V9M9 21H5a2 2 0 0 1-2-2V9m0 0h18"/></svg>
<div class="b " style="left:664.40px;top:485.60px;width:319.00px;height:274.40px;background:#fdfefe;border:1px solid rgba(214,226,230,.6);border-radius:8px;box-shadow:0 1px 2.5px rgba(40,70,80,.09);overflow:hidden;"></div>
<div class="b " style="left:665.40px;top:486.60px;width:317.00px;height:53.80px;background:linear-gradient(180deg,#fdfefe,#f6fafb);border-bottom:1px solid #eef4f5;border-radius:7px 7px 0 0;"></div>
<span class="t " style="top:503.60px;font-size:10.15px;color:#0e171a;font-weight:700;left:681.20px;">拠点別排出量</span>
<span class="t " style="top:520.10px;font-size:8.9px;color:#5d848b;font-weight:500;left:681.20px;">拠点ごとの排出量合計</span>
<div class="b " style="left:853.00px;top:502.90px;width:26.20px;height:22.30px;background:#fcfefe;border:1px solid #e2ecef;border-radius:4.5px;box-shadow:0 1px 2.5px rgba(60,100,110,.15);"></div>
<svg class="ic" style="left:860.60px;top:507.90px;width:11.6px;height:11.6px" viewBox="0 0 24 24" fill="none" stroke="#16242a" stroke-width="2.1" stroke-linecap="round" stroke-linejoin="round"><path d="M21 15v4a2 2 0 0 1-2 2H5a2 2 0 0 1-2-2v-4"/><path d="m7 10 5 5 5-5"/><path d="M12 15V3"/></svg>
<div class="b " style="left:885.20px;top:502.90px;width:81.40px;height:22.30px;background:#fcfefe;border:1px solid #e2ecef;border-radius:4.5px;box-shadow:0 1px 2.5px rgba(60,100,110,.15);"></div>
<div class="b " style="left:906.10px;top:503.90px;width:19.60px;height:20.30px;background:#dcecf1;"></div>
<div class="b " style="left:905.60px;top:503.90px;width:1.00px;height:20.30px;background:#e3edf0;"></div>
<div class="b " style="left:925.20px;top:503.90px;width:1.00px;height:20.30px;background:#e3edf0;"></div>
<div class="b " style="left:945.10px;top:503.90px;width:1.00px;height:20.30px;background:#e3edf0;"></div>
<svg class="ic" style="left:889.60px;top:507.90px;width:11.6px;height:11.6px" viewBox="0 0 24 24" fill="none" stroke="#16242a" stroke-width="2.1" stroke-linecap="round" stroke-linejoin="round"><path d="M21 12c.552 0 1.005-.449.95-.998a10 10 0 0 0-8.953-8.951c-.55-.055-.998.398-.998.95v8a1 1 0 0 0 1 1z"/><path d="M21.21 15.89A10 10 0 1 1 8 2.83"/></svg>
<svg class="ic" style="left:909.80px;top:507.90px;width:11.6px;height:11.6px" viewBox="0 0 24 24" fill="none" stroke="#16242a" stroke-width="2.1" stroke-linecap="round" stroke-linejoin="round"><path d="M3 3v16a2 2 0 0 0 2 2h16"/><path d="M18 17V9"/><path d="M13 17V5"/><path d="M8 17v-3"/></svg>
<svg class="ic" style="left:929.00px;top:507.90px;width:11.6px;height:11.6px" viewBox="0 0 24 24" fill="none" stroke="#16242a" stroke-width="2.1" stroke-linecap="round" stroke-linejoin="round"><path d="M3 3v16a2 2 0 0 0 2 2h16"/><path d="m19 9-5 5-4-4-3 3"/></svg>
<svg class="ic" style="left:949.60px;top:507.90px;width:11.6px;height:11.6px" viewBox="0 0 24 24" fill="none" stroke="#16242a" stroke-width="2.1" stroke-linecap="round" stroke-linejoin="round"><path d="M9 3H5a2 2 0 0 0-2 2v4m6-6h10a2 2 0 0 1 2 2v4M9 3v18m0 0h10a2 2 0 0 0 2-2V9M9 21H5a2 2 0 0 1-2-2V9m0 0h18"/></svg>
<div class="b " style="left:994.40px;top:485.60px;width:318.80px;height:171.80px;background:#fdfefe;border:1px solid rgba(214,226,230,.6);border-radius:8px;box-shadow:0 1px 2.5px rgba(40,70,80,.09);overflow:hidden;"></div>
<div class="b " style="left:995.40px;top:486.60px;width:316.80px;height:50.90px;background:linear-gradient(180deg,#fdfefe,#f6fafb);border-bottom:1px solid #eef4f5;border-radius:7px 7px 0 0;"></div>
<span class="t " style="top:503.60px;font-size:10.15px;color:#0e171a;font-weight:700;left:1011.20px;">比較</span>
<span class="t " style="top:521.90px;font-size:9.05px;color:#5d848b;font-weight:500;left:1011.20px;">選択した条件で比較します。</span>
<svg id="charts" width="1470" height="797" viewBox="0 0 1470 797" style="position:absolute;left:0;top:0"><path d="M568.80 354.90A75.6 75.6 0 0 0 418.06 346.60L457.32 350.94A36.1 36.1 0 0 1 529.30 354.90Z" fill="#ecb641" stroke="#fdfefe" stroke-width="0.7" stroke-linejoin="round"/>
<path d="M417.81 349.23A75.6 75.6 0 0 0 488.01 430.32L490.72 390.91A36.1 36.1 0 0 1 457.20 352.19Z" fill="#58ab78" stroke="#fdfefe" stroke-width="0.7" stroke-linejoin="round"/>
<path d="M490.65 430.46A75.6 75.6 0 0 0 568.75 357.54L529.28 356.16A36.1 36.1 0 0 1 491.98 390.98Z" fill="#4fa3bf" stroke="#fdfefe" stroke-width="0.7" stroke-linejoin="round"/>
<text x="496.00" y="295.00" font-size="8.4" fill="#10191c" text-anchor="middle" font-weight="400" dominant-baseline="central" stroke="#10191c" stroke-width=".42">605.1t</text>
<text x="447.30" y="395.20" font-size="8.4" fill="#10191c" text-anchor="middle" font-weight="400" dominant-baseline="central" stroke="#10191c" stroke-width=".42">314.8t</text>
<text x="534.30" y="399.60" font-size="8.4" fill="#10191c" text-anchor="middle" font-weight="400" dominant-baseline="central" stroke="#10191c" stroke-width=".42">313.3t</text>
<circle cx="372.70" cy="448.5" r="2.9" fill="#ecb641"/>
<text x="379.30" y="448.30" font-size="8.5" fill="#ecb641" text-anchor="start" font-weight="400" dominant-baseline="central" letter-spacing=".13">Scope 3 (605.1t)</text>
<circle cx="455.70" cy="448.5" r="2.9" fill="#58ab78"/>
<text x="462.30" y="448.30" font-size="8.5" fill="#58ab78" text-anchor="start" font-weight="400" dominant-baseline="central" letter-spacing=".13">Scope 2 (314.8t)</text>
<circle cx="538.70" cy="448.5" r="2.9" fill="#4fa3bf"/>
<text x="545.30" y="448.30" font-size="8.5" fill="#4fa3bf" text-anchor="start" font-weight="400" dominant-baseline="central" letter-spacing=".13">Scope 1 (313.3t)</text>
<path d="M725.50 276.20H962.00" stroke="#eef4f5" stroke-width=".8" stroke-dasharray="1.6 1.6" fill="none"/>
<path d="M725.50 316.30H962.00" stroke="#eef4f5" stroke-width=".8" stroke-dasharray="1.6 1.6" fill="none"/>
<path d="M725.50 356.50H962.00" stroke="#eef4f5" stroke-width=".8" stroke-dasharray="1.6 1.6" fill="none"/>
<path d="M725.50 396.60H962.00" stroke="#eef4f5" stroke-width=".8" stroke-dasharray="1.6 1.6" fill="none"/>
<path d="M725.50 436.70H962.00" stroke="#eef4f5" stroke-width=".8" stroke-dasharray="1.6 1.6" fill="none"/>
<path d="M725.50 276.20V436.70" stroke="#eef4f5" stroke-width=".8" stroke-dasharray="1.6 1.6" fill="none"/>
<path d="M764.92 276.20V436.70" stroke="#eef4f5" stroke-width=".8" stroke-dasharray="1.6 1.6" fill="none"/>
<path d="M843.75 276.20V436.70" stroke="#eef4f5" stroke-width=".8" stroke-dasharray="1.6 1.6" fill="none"/>
<path d="M922.58 276.20V436.70" stroke="#eef4f5" stroke-width=".8" stroke-dasharray="1.6 1.6" fill="none"/>
<path d="M962.00 276.20V436.70" stroke="#eef4f5" stroke-width=".8" stroke-dasharray="1.6 1.6" fill="none"/>
<text x="721.80" y="276.00" font-size="8.8" fill="#4c6168" text-anchor="end" font-weight="400" dominant-baseline="central" >800t</text>
<text x="721.80" y="316.10" font-size="8.8" fill="#4c6168" text-anchor="end" font-weight="400" dominant-baseline="central" >600t</text>
<text x="721.80" y="356.30" font-size="8.8" fill="#4c6168" text-anchor="end" font-weight="400" dominant-baseline="central" >400t</text>
<text x="721.80" y="396.40" font-size="8.8" fill="#4c6168" text-anchor="end" font-weight="400" dominant-baseline="central" >200t</text>
<text x="721.80" y="436.50" font-size="8.8" fill="#4c6168" text-anchor="end" font-weight="400" dominant-baseline="central" >0t</text>
<path d="M735.7 436.7V316.4a1 1 0 0 1 1-1H796.2a1 1 0 0 1 1 1V436.7Z" fill="#4fa3bf"/>
<text x="766.45" y="309.00" font-size="8.3" fill="#4c6168" text-anchor="middle" font-weight="400" dominant-baseline="central" >605.1t</text>
<path d="M812.8 436.7V374.6a1 1 0 0 1 1-1H873.7a1 1 0 0 1 1 1V436.7Z" fill="#58ab78"/>
<text x="843.75" y="367.20" font-size="8.3" fill="#4c6168" text-anchor="middle" font-weight="400" dominant-baseline="central" >314.8t</text>
<path d="M890.3 436.7V374.9a1 1 0 0 1 1-1H951.2a1 1 0 0 1 1 1V436.7Z" fill="#ecb641"/>
<text x="921.25" y="367.50" font-size="8.3" fill="#4c6168" text-anchor="middle" font-weight="400" dominant-baseline="central" >313.3t</text>
<text x="843.70" y="445.70" font-size="8.6" fill="#4c6168" text-anchor="middle" font-weight="400" dominant-baseline="central" textLength="74.8" lengthAdjust="spacingAndGlyphs">Purchased electricity</text>
<text x="921.40" y="445.70" font-size="8.6" fill="#4c6168" text-anchor="middle" font-weight="400" dominant-baseline="central" textLength="59.1" lengthAdjust="spacingAndGlyphs">Fuel combustion</text>
<path d="M1058.40 281.70H1291.30" stroke="#eef4f5" stroke-width=".8" stroke-dasharray="1.6 1.6" fill="none"/>
<path d="M1058.40 356.00H1291.30" stroke="#eef4f5" stroke-width=".8" stroke-dasharray="1.6 1.6" fill="none"/>
<path d="M1058.40 393.40H1291.30" stroke="#eef4f5" stroke-width=".8" stroke-dasharray="1.6 1.6" fill="none"/>
<path d="M1058.40 430.90H1291.30" stroke="#eef4f5" stroke-width=".8" stroke-dasharray="1.6 1.6" fill="none"/>
<path d="M1058.40 281.70V430.90" stroke="#eef4f5" stroke-width=".8" stroke-dasharray="1.6 1.6" fill="none"/>
<path d="M1100.75 281.70V430.90" stroke="#eef4f5" stroke-width=".8" stroke-dasharray="1.6 1.6" fill="none"/>
<path d="M1143.09 281.70V430.90" stroke="#eef4f5" stroke-width=".8" stroke-dasharray="1.6 1.6" fill="none"/>
<path d="M1185.44 281.70V430.90" stroke="#eef4f5" stroke-width=".8" stroke-dasharray="1.6 1.6" fill="none"/>
<path d="M1227.78 281.70V430.90" stroke="#eef4f5" stroke-width=".8" stroke-dasharray="1.6 1.6" fill="none"/>
<path d="M1291.30 281.70V430.90" stroke="#eef4f5" stroke-width=".8" stroke-dasharray="1.6 1.6" fill="none"/>
<text x="1052.80" y="282.20" font-size="8.8" fill="#4c6168" text-anchor="end" font-weight="400" dominant-baseline="central" >119.5t</text>
<text x="1052.80" y="356.40" font-size="8.8" fill="#4c6168" text-anchor="end" font-weight="400" dominant-baseline="central" >60t</text>
<text x="1052.80" y="393.70" font-size="8.8" fill="#4c6168" text-anchor="end" font-weight="400" dominant-baseline="central" >30t</text>
<text x="1052.80" y="431.40" font-size="8.8" fill="#4c6168" text-anchor="end" font-weight="400" dominant-baseline="central" >0t</text>
<polyline points="1058.40,296.6 1079.57,293.3 1100.75,290.4 1121.92,288.6 1143.09,287.9 1164.26,288.2 1185.44,351.2 1206.61,315.5 1227.78,298.1 1248.95,317.0 1270.13,294.4 1291.30,301.7" fill="none" stroke="#3a8da7" stroke-width="2.1" stroke-linejoin="round" stroke-linecap="round"/>
<text x="1058.30" y="440.90" font-size="8.8" fill="#4c6168" text-anchor="middle" font-weight="400" dominant-baseline="central" >2025/04</text>
<text x="1100.90" y="440.90" font-size="8.8" fill="#4c6168" text-anchor="middle" font-weight="400" dominant-baseline="central" >2025/06</text>
<text x="1143.20" y="440.90" font-size="8.8" fill="#4c6168" text-anchor="middle" font-weight="400" dominant-baseline="central" >2025/08</text>
<text x="1185.40" y="440.90" font-size="8.8" fill="#4c6168" text-anchor="middle" font-weight="400" dominant-baseline="central" >2025/10</text>
<text x="1227.60" y="440.90" font-size="8.8" fill="#4c6168" text-anchor="middle" font-weight="400" dominant-baseline="central" >2025/12</text>
<text x="1279.40" y="440.90" font-size="8.8" fill="#4c6168" text-anchor="middle" font-weight="400" dominant-baseline="central" >2026/03</text>
<path d="M397.00 567.30H631.00" stroke="#eef4f5" stroke-width=".8" stroke-dasharray="1.6 1.6" fill="none"/>
<path d="M397.00 607.30H631.00" stroke="#eef4f5" stroke-width=".8" stroke-dasharray="1.6 1.6" fill="none"/>
<path d="M397.00 647.30H631.00" stroke="#eef4f5" stroke-width=".8" stroke-dasharray="1.6 1.6" fill="none"/>
<path d="M397.00 687.30H631.00" stroke="#eef4f5" stroke-width=".8" stroke-dasharray="1.6 1.6" fill="none"/>
<path d="M397.00 567.30V714.00" stroke="#eef4f5" stroke-width=".8" stroke-dasharray="1.6 1.6" fill="none"/>
<path d="M455.50 567.30V714.00" stroke="#eef4f5" stroke-width=".8" stroke-dasharray="1.6 1.6" fill="none"/>
<path d="M572.50 567.30V714.00" stroke="#eef4f5" stroke-width=".8" stroke-dasharray="1.6 1.6" fill="none"/>
<path d="M631.00 567.30V714.00" stroke="#eef4f5" stroke-width=".8" stroke-dasharray="1.6 1.6" fill="none"/>
<text x="392.20" y="567.80" font-size="8.8" fill="#4c6168" text-anchor="end" font-weight="400" dominant-baseline="central" >1,200t</text>
<text x="392.20" y="607.90" font-size="8.8" fill="#4c6168" text-anchor="end" font-weight="400" dominant-baseline="central" >900t</text>
<text x="392.20" y="647.90" font-size="8.8" fill="#4c6168" text-anchor="end" font-weight="400" dominant-baseline="central" >600t</text>
<text x="392.20" y="687.90" font-size="8.8" fill="#4c6168" text-anchor="end" font-weight="400" dominant-baseline="central" >300t</text>
<path d="M409.80 716V581.1a1 1 0 0 1 1-1H500.90a1 1 0 0 1 1 1V716Z" fill="#4fa3bf"/>
<path d="M525.90 716V711.9a1 1 0 0 1 1-1H617.30a1 1 0 0 1 1 1V716Z" fill="#58ab78"/>
<text x="455.90" y="574.30" font-size="8.7" fill="#4c6168" text-anchor="middle" font-weight="400" dominant-baseline="central" textLength="26" lengthAdjust="spacingAndGlyphs">1,105.1t</text>
<text x="572.30" y="704.90" font-size="8.6" fill="#4c6168" text-anchor="middle" font-weight="400" dominant-baseline="central" textLength="21.6" lengthAdjust="spacingAndGlyphs">128.2t</text>
<path d="M727.20 567.30H961.20" stroke="#eef4f5" stroke-width=".8" stroke-dasharray="1.6 1.6" fill="none"/>
<path d="M727.20 607.30H961.20" stroke="#eef4f5" stroke-width=".8" stroke-dasharray="1.6 1.6" fill="none"/>
<path d="M727.20 647.30H961.20" stroke="#eef4f5" stroke-width=".8" stroke-dasharray="1.6 1.6" fill="none"/>
<path d="M727.20 687.30H961.20" stroke="#eef4f5" stroke-width=".8" stroke-dasharray="1.6 1.6" fill="none"/>
<path d="M727.20 567.30V714.00" stroke="#eef4f5" stroke-width=".8" stroke-dasharray="1.6 1.6" fill="none"/>
<path d="M785.70 567.30V714.00" stroke="#eef4f5" stroke-width=".8" stroke-dasharray="1.6 1.6" fill="none"/>
<path d="M902.70 567.30V714.00" stroke="#eef4f5" stroke-width=".8" stroke-dasharray="1.6 1.6" fill="none"/>
<path d="M961.20 567.30V714.00" stroke="#eef4f5" stroke-width=".8" stroke-dasharray="1.6 1.6" fill="none"/>
<text x="722.40" y="567.80" font-size="8.8" fill="#4c6168" text-anchor="end" font-weight="400" dominant-baseline="central" >1,200t</text>
<text x="722.40" y="607.90" font-size="8.8" fill="#4c6168" text-anchor="end" font-weight="400" dominant-baseline="central" >900t</text>
<text x="722.40" y="647.90" font-size="8.8" fill="#4c6168" text-anchor="end" font-weight="400" dominant-baseline="central" >600t</text>
<text x="722.40" y="687.90" font-size="8.8" fill="#4c6168" text-anchor="end" font-weight="400" dominant-baseline="central" >300t</text>
<path d="M740.00 716V581.1a1 1 0 0 1 1-1H831.10a1 1 0 0 1 1 1V716Z" fill="#4fa3bf"/>
<path d="M856.10 716V711.9a1 1 0 0 1 1-1H947.50a1 1 0 0 1 1 1V716Z" fill="#58ab78"/>
<text x="786.10" y="574.30" font-size="8.7" fill="#4c6168" text-anchor="middle" font-weight="400" dominant-baseline="central" textLength="26" lengthAdjust="spacingAndGlyphs">1,105.1t</text>
<text x="902.50" y="704.90" font-size="8.6" fill="#4c6168" text-anchor="middle" font-weight="400" dominant-baseline="central" textLength="21.6" lengthAdjust="spacingAndGlyphs">128.2t</text></svg>
<svg class="ic" style="left:1145.90px;top:570.10px;width:16.6px;height:16.6px" viewBox="0 0 24 24" fill="none" stroke="#8a9aa0" stroke-width="1.35" stroke-linecap="round" stroke-linejoin="round"><path d="M22 12h-6l-2 3h-4l-2-3H2"/><path d="M5.45 5.11 2 12v6a2 2 0 0 0 2 2h16a2 2 0 0 0 2-2v-6l-3.45-6.89A2 2 0 0 0 16.76 4H7.24a2 2 0 0 0-1.79 1.11z"/></svg>
<span class="t " style="top:592.80px;font-size:8.94px;color:#4a5e65;font-weight:400;left:1153.90px;transform:translateX(-50%);transform-origin:center center;">フィルターから「比較する」を有効にすると、このパネルに差分が表示</span>
<span class="t " style="top:607.80px;font-size:8.94px;color:#4a5e65;font-weight:400;left:1152.40px;transform:translateX(-50%);transform-origin:center center;">されます。</span>
<div class="b " style="left:316.00px;top:713.60px;width:1014.00px;height:16.40px;background:#fff;"></div>
</div></div>
</body></html>
